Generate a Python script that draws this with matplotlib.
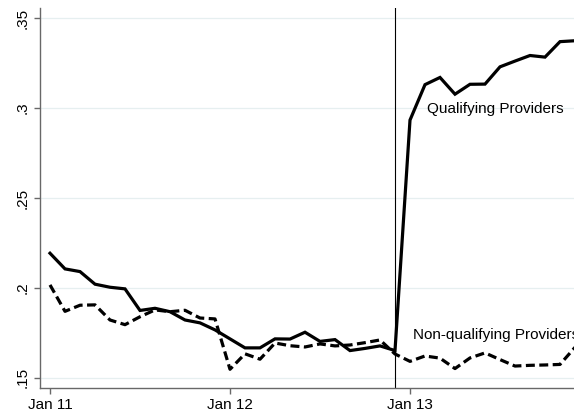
import numpy as np
import matplotlib
matplotlib.use("Agg")
import matplotlib.pyplot as plt

plt.rcParams['font.family'] = ['Liberation Sans', 'DejaVu Sans']

# Monthly observations, January 2011 through December 2013
months = np.arange(36)
tick_months = [0, 12, 24]
tick_labels = ["Jan 11", "Jan 12", "Jan 13"]
policy_month = 23

qualifying = [
    0.2193, 0.2106, 0.2091, 0.2021, 0.2004, 0.1995, 0.1875, 0.1887, 0.1868, 0.1822,
    0.1806, 0.1767, 0.1717, 0.1667, 0.1667, 0.1717, 0.1716, 0.1754, 0.1703, 0.1713,
    0.1652, 0.1664, 0.1678, 0.1652, 0.2933, 0.3130, 0.3170, 0.3077, 0.3132, 0.3133,
    0.3229, 0.3261, 0.3292, 0.3283, 0.3369, 0.3374,
]
non_qualifying = [
    0.2017, 0.1870, 0.1904, 0.1906, 0.1822, 0.1796, 0.1840, 0.1878, 0.1868, 0.1876,
    0.1833, 0.1828, 0.1548, 0.1634, 0.1604, 0.1694, 0.1679, 0.1672, 0.1689, 0.1678,
    0.1683, 0.1696, 0.1711, 0.1633, 0.1592, 0.1622, 0.1610, 0.1552, 0.1611, 0.1639,
    0.1602, 0.1566, 0.1570, 0.1572, 0.1575, 0.1670,
]
y_ticks = [0.15, 0.20, 0.25, 0.30, 0.35]
y_tick_labels = [".15", ".2", ".25", ".3", ".35"]

W, H = 574, 415
fig = plt.figure(figsize=(W / 100, H / 100), dpi=100)
fig.patch.set_facecolor("white")
ax = fig.add_axes([40 / W, (H - 388) / H, 560 / W, 380 / H])

ax.set_xlim(-0.667, 36.667)
ax.set_ylim(0.1444, 0.3556)

for yt in y_ticks:
    ax.axhline(yt, color="#e6eff0", lw=0.9, zorder=0)

ax.plot(months, qualifying, color="black", lw=2.3, solid_joinstyle="miter", zorder=3)
ax.plot(months, non_qualifying, color="black", lw=2.3, linestyle=(0, (2.8, 1.4)),
        zorder=3)
ax.axvline(policy_month, color="black", lw=0.8, zorder=2)

ax.text(25.15, 0.2994, "Qualifying Providers", fontsize=11, ha="left", va="center")
ax.text(24.18, 0.1739, "Non-qualifying Providers", fontsize=11, ha="left",
        va="center", clip_on=False)

ax.set_xticks(tick_months)
ax.set_xticklabels(tick_labels, fontsize=11)
ax.set_yticks(y_ticks)
ax.set_yticklabels(y_tick_labels, fontsize=11, rotation=90, va="center")

for side in ("top", "right"):
    ax.spines[side].set_visible(False)
for side in ("left", "bottom"):
    ax.spines[side].set_color("#686868")
    ax.spines[side].set_linewidth(1.0)
ax.tick_params(axis="both", direction="out", length=4.5, width=1.0, color="#686868",
               pad=3)

fig.savefig("out.png", dpi=100, facecolor="white")
